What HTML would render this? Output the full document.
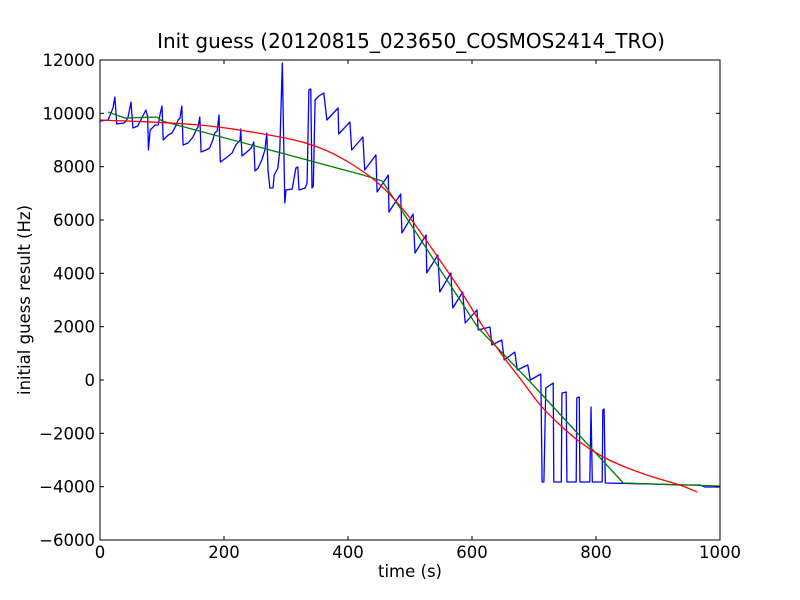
<!DOCTYPE html>
<html><head><meta charset="utf-8"><style>
body{margin:0;background:#fff;}
svg{display:block;font-family:"DejaVu Sans","Liberation Sans",sans-serif;}
</style></head><body>
<svg id="chart" width="800" height="600">
<rect x="0" y="0" width="800" height="600" fill="#fff"/>
<g id="plot"></g>
<rect x="100" y="60" width="620" height="480" fill="none" stroke="#000" stroke-width="1"/>
<text x="411" y="48" text-anchor="middle" font-size="20">Init guess (20120815_023650_COSMOS2414_TRO)</text>
<text x="410" y="577" text-anchor="middle" font-size="16.5">time (s)</text>
<text transform="translate(30,300) rotate(-90)" text-anchor="middle" font-size="16.5">initial guess result (Hz)</text>
<g id="ticks"></g>
</svg>
<script>
const xTicks=[0,200,400,600,800,1000];
const yTicks=[-6000,-4000,-2000,0,2000,4000,6000,8000,10000,12000];
const blueT=[0,13,21,24,27,39,45,50,53,61,69,74,77,78,81,89,94,97,100,102,110,116,123,126,129,132,134,142,150,155,158,161,163,171,177,182,185,189,192,194,203,213,219,226,227,229,237,244,248,250,255,261,266,269,271,274,279,281,287,290,294,298,300,310,316,319,321,331,334,337,340,342,344,347,353,361,366,384,385,403,406,424,427,445,447,465,466,485,487,505,508,526,527,545,548,566,569,585,589,608,610,629,632,648,652,669,673,690,694,711,713,716,719,731,732,744,745,752,753,768,769,773,774,790,792,794,810,811,813,815,887,935,968,976,1000];
const blueV=[9713,9750,10200,10613,9600,9638,9825,10425,9450,9525,9900,10125,9863,8625,9375,9563,9563,9975,10275,9000,9188,9263,9563,9750,9825,10275,8813,8888,9113,9375,9488,9863,8550,8625,8700,9000,9263,9338,9938,8175,8325,8513,8813,9000,9413,8400,8550,8700,8925,7838,7950,8250,8625,9263,7875,7200,7200,7688,7950,8625,11888,6638,7125,7163,7950,7988,7125,7200,7388,10875,10913,7200,7275,10500,10650,10763,9750,10200,9225,9675,8625,9113,7875,8438,7050,7688,6300,6975,5513,6225,4763,5438,4013,4688,3300,4013,2700,3300,2138,2625,1875,1988,1313,1500,750,1050,375,563,0,225,-3825,-3825,-300,-113,-3825,-3825,-488,-450,-3825,-3825,-675,-638,-3825,-3825,-1013,-3825,-3825,-1125,-1088,-3863,-3900,-3938,-3938,-4013,-4013];
const greenT=[13,40,92,100,424,455,484,610,694,844,1000];
const greenV=[10050,9825,9863,9713,7688,7463,6450,1950,-75,-3863,-3975];
const redT=[0,161,290,355,403,452,500,548,581,613,645,677,710,742,774,806,839,887,935,963];
const redV=[9750,9563,9113,8700,8138,7313,6075,4500,3375,2175,1050,75,-938,-1688,-2325,-2813,-3188,-3600,-3938,-4200];
const X=t=>100+t/1000*620;
const Y=v=>540-(v+6000)/18000*480;
const NS='http://www.w3.org/2000/svg';
const plot=document.getElementById('plot');
function line(ts,vs,color,name,smooth){
  const p=document.createElementNS(NS,'path');
  const pts=ts.map((t,i)=>[X(t),Y(vs[i])]);
  let d='M'+pts[0][0].toFixed(1)+','+pts[0][1].toFixed(1);
  for(let i=1;i<pts.length;i++){
    if(smooth){
      const p0=pts[Math.max(0,i-2)],p1=pts[i-1],p2=pts[i],p3=pts[Math.min(pts.length-1,i+1)];
      const c1=[p1[0]+(p2[0]-p0[0])/6,p1[1]+(p2[1]-p0[1])/6];
      const c2=[p2[0]-(p3[0]-p1[0])/6,p2[1]-(p3[1]-p1[1])/6];
      d+='C'+c1[0].toFixed(1)+','+c1[1].toFixed(1)+' '+c2[0].toFixed(1)+','+c2[1].toFixed(1)+' '+p2[0].toFixed(1)+','+p2[1].toFixed(1);
    } else d+='L'+pts[i][0].toFixed(1)+','+pts[i][1].toFixed(1);
  }
  p.setAttribute('d',d);
  p.setAttribute('fill','none');p.setAttribute('stroke',color);p.setAttribute('stroke-width','1.3');
  p.setAttribute('stroke-linejoin','round');
  
  
  plot.appendChild(p);
}
line(blueT,blueV,'#0000ff','series-blue-line',false);
line(greenT,greenV,'#008000','series-green-line',false);
line(redT,redV,'#ff0000','series-red-line',true);
const tk=document.getElementById('ticks');
function mk(tag,attrs){const e=document.createElementNS(NS,tag);for(const k in attrs)e.setAttribute(k,attrs[k]);tk.appendChild(e);return e;}
xTicks.forEach(t=>{
  const x=X(t);
  const a=mk('line',{x1:x,x2:x,y1:540,y2:536,stroke:'#000'});
  
  
  mk('line',{x1:x,x2:x,y1:60,y2:64,stroke:'#000'});
  const l=mk('text',{x:x,y:558,'text-anchor':'middle','font-size':'16.5'});
  l.textContent=t;
  
  
});
yTicks.forEach(v=>{
  const y=Y(v);
  const a=mk('line',{x1:100,x2:104,y1:y,y2:y,stroke:'#000'});
  
  
  mk('line',{x1:716,x2:720,y1:y,y2:y,stroke:'#000'});
  const l=mk('text',{x:95,y:y+6,'text-anchor':'end','font-size':'16.5'});
  l.textContent=v<0?'\u2212'+(-v):v;
  
  
});
</script>
</body></html>
